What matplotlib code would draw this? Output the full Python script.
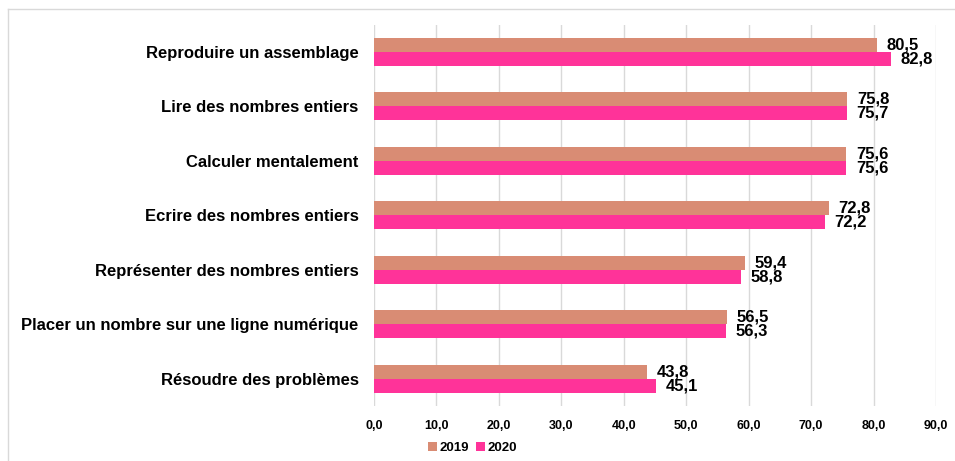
import matplotlib
matplotlib.use('Agg')
import matplotlib.pyplot as plt
import numpy as np
from matplotlib.lines import Line2D

plt.rcParams['font.family'] = ['Liberation Sans', 'DejaVu Sans']

# données (de haut en bas)
categories = ['Reproduire un assemblage', 'Lire des nombres entiers', 'Calculer mentalement',
              'Ecrire des nombres entiers', 'Représenter des nombres entiers',
              'Placer un nombre sur une ligne numérique', 'Résoudre des problèmes']
val_2019 = [80.5, 75.8, 75.6, 72.8, 59.4, 56.5, 43.8]
val_2020 = [82.8, 75.7, 75.6, 72.2, 58.8, 56.3, 45.1]
series = ['2019', '2020']
colors = ['#D98C74', '#FF3399']
xticks = np.arange(0, 91, 10)

fig = plt.figure(figsize=(9.55, 4.61), dpi=100)
ax = fig.add_axes([0.3916, 0.1193, 0.5885, 0.827])

y = np.arange(len(categories))
h = 0.257
b1 = ax.barh(y - h / 2, val_2019, height=h, color=colors[0], label=series[0])
b2 = ax.barh(y + h / 2, val_2020, height=h, color=colors[1], label=series[1])

for bars, vals in ((b1, val_2019), (b2, val_2020)):
    for bar, v in zip(bars, vals):
        ax.annotate(f'{v:.1f}'.replace('.', ','),
                    (bar.get_width(), bar.get_y() + bar.get_height() / 2),
                    xytext=(7, 0), textcoords='offset points',
                    ha='left', va='center', fontsize=12, fontweight='bold')

ax.set_xlim(0, 90)
ax.set_ylim(len(categories) - 0.5, -0.5)
ax.set_xticks(xticks)
ax.set_xticklabels([f'{t:.1f}'.replace('.', ',') for t in xticks],
                   fontsize=9, fontweight='bold')
ax.set_yticks(y)
ax.set_yticklabels(categories, fontsize=12, fontweight='bold')
ax.tick_params(axis='both', length=0)
ax.tick_params(axis='y', pad=11)
ax.tick_params(axis='x', pad=10)
ax.xaxis.grid(True, color='#D9D9D9', linewidth=1)
ax.set_axisbelow(True)
for s in ax.spines.values():
    s.set_visible(False)

fig.legend(handles=[b1, b2], labels=series, loc='center', bbox_to_anchor=(0.495, 0.028),
           ncol=2, frameon=False, prop={'size': 9.5, 'weight': 'bold'},
           handlelength=0.7, handleheight=0.7, handletextpad=0.2, columnspacing=0.5)

# cadre du graphique
fig.add_artist(Line2D([8 / 955, 1], [1 - 9 / 461, 1 - 9 / 461], color='#D9D9D9', lw=1,
                      transform=fig.transFigure))
fig.add_artist(Line2D([8 / 955, 8 / 955], [0, 1 - 9 / 461], color='#D9D9D9', lw=1,
                      transform=fig.transFigure))

fig.savefig('out.png', dpi=100)
